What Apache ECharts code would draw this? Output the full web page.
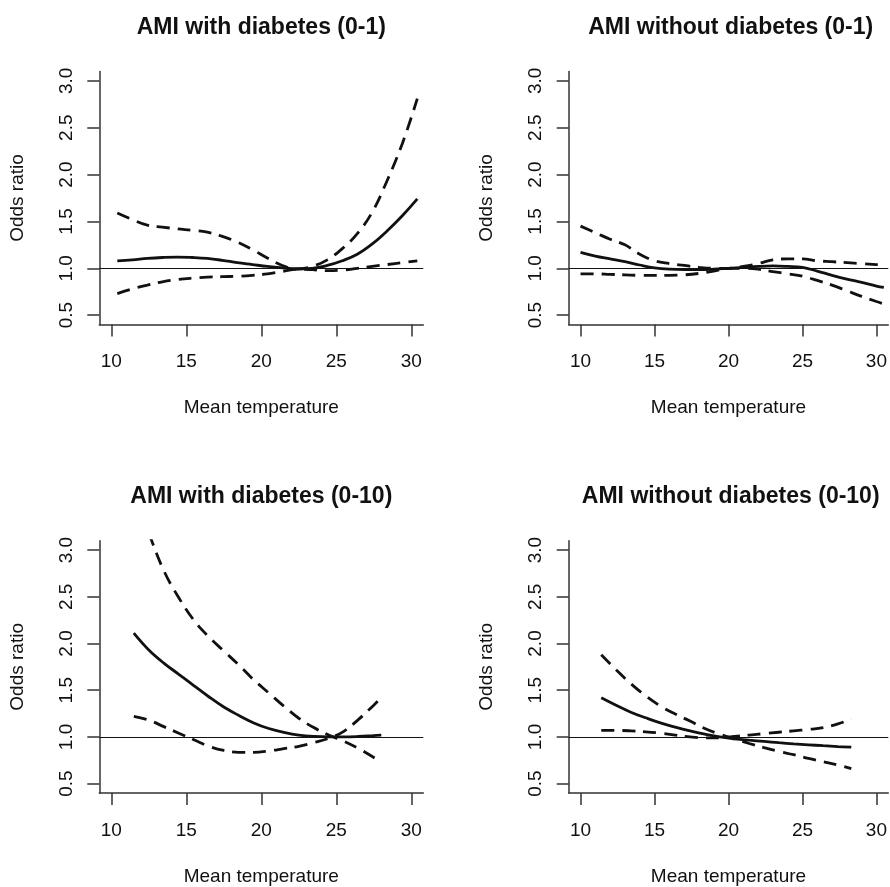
<!DOCTYPE html>
<html>
<head>
<meta charset="utf-8">
<script src="https://cdn.jsdelivr.net/npm/echarts@6/dist/echarts.min.js"></script>
<style>
  html, body { margin: 0; padding: 0; background: #fff; }
  #main { width: 890px; height: 887px; }
</style>
</head>
<body>
<div id="main"></div>
<script>
// tick labels
const xTicks = [10, 15, 20, 25, 30]
const yTicks = [0.5, 1.0, 1.5, 2.0, 2.5, 3.0]

const titles = [
  'AMI with diabetes (0-1)',
  'AMI without diabetes (0-1)',
  'AMI with diabetes (0-10)',
  'AMI without diabetes (0-10)',
]

// panel 1: AMI with diabetes (0-1)
const temp1 = [10.4, 11.4, 12.4, 13.4, 14.4, 15.4, 16.4, 17.4, 18.4, 19.4, 20.4, 21.4, 22.4, 23.4, 24.4, 25.4, 26.4, 27.4, 28.4, 29.4, 30.4]
const est1 = [1.08, 1.09, 1.105, 1.115, 1.12, 1.115, 1.105, 1.085, 1.06, 1.04, 1.02, 1.005, 0.995, 1.0, 1.03, 1.08, 1.15, 1.26, 1.4, 1.56, 1.74]
const upper1 = [1.59, 1.52, 1.46, 1.44, 1.42, 1.405, 1.385, 1.34, 1.28, 1.2, 1.11, 1.03, 0.99, 1.02, 1.09, 1.21, 1.37, 1.6, 1.94, 2.33, 2.81]
const lower1 = [0.73, 0.78, 0.82, 0.855, 0.88, 0.895, 0.905, 0.91, 0.915, 0.925, 0.94, 0.965, 0.99, 0.985, 0.975, 0.98, 1.0, 1.02, 1.04, 1.06, 1.08]

// panel 2: AMI without diabetes (0-1)
const temp2 = [10, 11, 12, 13, 14, 15, 16, 17, 18, 19, 20, 21, 22, 23, 24, 25, 26, 27, 28, 29, 30, 30.5]
const est2 = [1.17, 1.13, 1.1, 1.07, 1.035, 1.005, 0.99, 0.985, 0.985, 0.99, 1.0, 1.01, 1.02, 1.025, 1.02, 1.01, 0.97, 0.925, 0.885, 0.85, 0.81, 0.795]
const upper2 = [1.45, 1.38, 1.31, 1.25, 1.15, 1.08, 1.05, 1.03, 1.01, 1.0, 1.0, 1.02, 1.05, 1.09, 1.1, 1.1, 1.08, 1.07, 1.06, 1.05, 1.04, 1.035]
const lower2 = [0.94, 0.94, 0.935, 0.93, 0.925, 0.925, 0.925, 0.93, 0.945, 0.97, 1.0, 1.0, 0.99, 0.965, 0.94, 0.915, 0.87, 0.82, 0.76, 0.7, 0.645, 0.62]

// panel 3: AMI with diabetes (0-10)
const temp3 = [11.5, 12.5, 13.5, 14.5, 15.5, 16.5, 17.5, 18.5, 19.5, 20.5, 21.5, 22.5, 23.5, 24.5, 25.5, 26.5, 27.5, 28]
const est3 = [2.11, 1.93, 1.79, 1.67, 1.55, 1.43, 1.32, 1.23, 1.15, 1.09, 1.05, 1.02, 1.005, 1.0, 1.0, 1.005, 1.015, 1.02]
const upper3 = [3.6, 3.18, 2.78, 2.49, 2.25, 2.07, 1.92, 1.77, 1.61, 1.47, 1.33, 1.2, 1.1, 1.02, 0.955, 0.875, 0.78, 0.73]
const lower3 = [1.22, 1.18, 1.11, 1.04, 0.97, 0.9, 0.855, 0.835, 0.835, 0.85, 0.875, 0.9, 0.94, 0.985, 1.06, 1.19, 1.34, 1.42]

// panel 4: AMI without diabetes (0-10)
const temp4 = [11.4, 12.4, 13.4, 14.4, 15.4, 16.4, 17.4, 18.4, 19.4, 20.4, 21.4, 22.4, 23.4, 24.4, 25.4, 26.4, 27.4, 28.3]
const est4 = [1.42, 1.34, 1.265, 1.205, 1.15, 1.105, 1.065, 1.03, 1.0, 0.98, 0.965, 0.952, 0.938, 0.926, 0.916, 0.906, 0.897, 0.89]
const upper4 = [1.88, 1.72, 1.57, 1.44, 1.33, 1.245, 1.17, 1.09, 1.03, 0.98, 0.93, 0.885, 0.845, 0.81, 0.77, 0.735, 0.7, 0.66]
const lower4 = [1.07, 1.07, 1.065, 1.055, 1.04, 1.02, 1.0, 0.99, 0.99, 1.005, 1.02, 1.035, 1.05, 1.065, 1.08, 1.1, 1.14, 1.19]

const panels = [
  { temp: temp1, est: est1, upper: upper1, lower: lower1 },
  { temp: temp2, est: est2, upper: upper2, lower: lower2 },
  { temp: temp3, est: est3, upper: upper3, lower: lower3 },
  { temp: temp4, est: est4, upper: upper4, lower: lower4 },
]

const FONT = 'Liberation Sans, Arial, Helvetica, sans-serif'
const INK = '#111'
const AXIS = '#333'

const gridLeft = [99.3, 568.7]
const gridTop = [71.5, 540.7]
const gridW = 324
const gridH = 253

const zipPts = (xs, ys) => xs.map((x, i) => [x, ys[i]])

const grids = []
const xAxes = []
const yAxes = []
const titleList = []
const series = []

panels.forEach((p, i) => {
  const col = i % 2
  const row = Math.floor(i / 2)
  const left = gridLeft[col]
  const top = gridTop[row]
  grids.push({ left: left, top: top, width: gridW, height: gridH, containLabel: false })

  titleList.push({
    text: titles[i],
    left: left + gridW / 2,
    top: top - 58,
    textAlign: 'center',
    padding: 0,
    textStyle: { fontFamily: FONT, fontSize: 23, fontWeight: 'bold', color: INK, lineHeight: 28 },
  })

  xAxes.push({
    gridIndex: i,
    type: 'value',
    min: 9.2,
    max: 30.8,
    name: 'Mean temperature',
    nameLocation: 'middle',
    nameGap: 74,
    nameTextStyle: { fontFamily: FONT, fontSize: 19, color: INK },
    axisLine: { show: true, lineStyle: { color: AXIS, width: 1.5 } },
    axisTick: { show: true, length: 12, customValues: xTicks, lineStyle: { color: AXIS, width: 1.5 } },
    axisLabel: { customValues: xTicks, margin: 28, fontFamily: FONT, fontSize: 19, color: INK },
    splitLine: { show: false },
  })

  yAxes.push({
    gridIndex: i,
    type: 'value',
    min: 0.4,
    max: 3.1,
    name: 'Odds ratio',
    nameLocation: 'middle',
    nameGap: 72,
    nameTextStyle: { fontFamily: FONT, fontSize: 19, color: INK },
    axisLine: { show: true, lineStyle: { color: AXIS, width: 1.5 } },
    axisTick: { show: true, length: 12, customValues: yTicks, lineStyle: { color: AXIS, width: 1.5 } },
    axisLabel: {
      customValues: yTicks,
      rotate: 90,
      margin: 23,
      fontFamily: FONT,
      fontSize: 19,
      color: INK,
      formatter: (v) => v.toFixed(1),
    },
    splitLine: { show: false },
  })

  const base = {
    type: 'line',
    xAxisIndex: i,
    yAxisIndex: i,
    showSymbol: false,
    symbol: 'none',
    smooth: 0.4,
    clip: true,
    silent: true,
  }

  series.push(Object.assign({}, base, {
    name: 'est' + i,
    data: zipPts(p.temp, p.est),
    lineStyle: { color: INK, width: 2.8, type: 'solid' },
    z: 3,
    markLine: {
      silent: true,
      symbol: 'none',
      label: { show: false },
      lineStyle: { color: INK, width: 1.2, type: 'solid' },
      data: [{ yAxis: 1 }],
    },
  }))
  series.push(Object.assign({}, base, {
    name: 'upper' + i,
    data: zipPts(p.temp, p.upper),
    lineStyle: { color: INK, width: 2.8, type: [13, 8] },
  }))
  series.push(Object.assign({}, base, {
    name: 'lower' + i,
    data: zipPts(p.temp, p.lower),
    lineStyle: { color: INK, width: 2.8, type: [13, 8] },
  }))
})

const chartDom = document.getElementById('main')
const myChart = echarts.init(chartDom)
const option = {
  animation: false,
  backgroundColor: '#fff',
  title: titleList,
  grid: grids,
  xAxis: xAxes,
  yAxis: yAxes,
  series: series,
}
option && myChart.setOption(option)
</script>
</body>
</html>
